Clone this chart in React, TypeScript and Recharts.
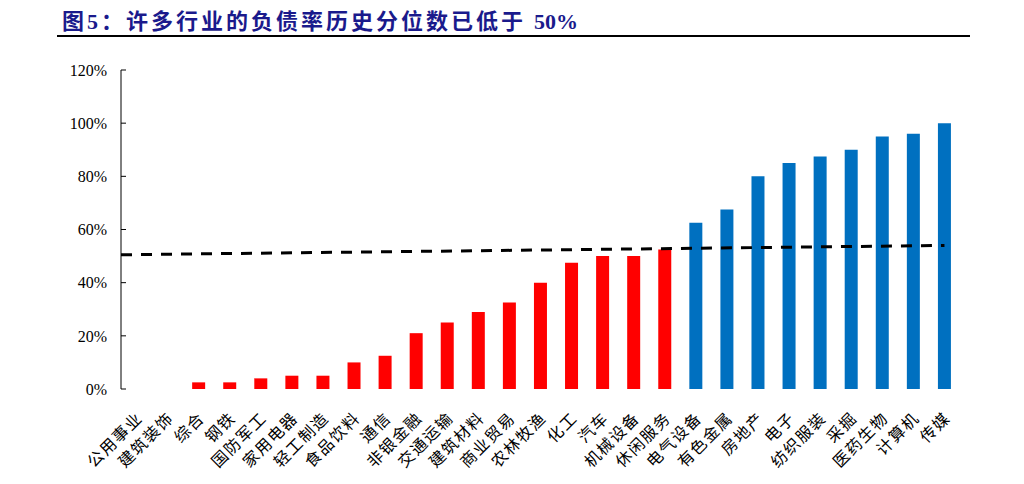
import React from "react";
import { BarChart, Bar, XAxis, YAxis, Cell, ReferenceLine } from "recharts";

// ---- data ----
const industries = [
  "公用事业", "建筑装饰", "综合", "钢铁", "国防军工", "家用电器", "轻工制造",
  "食品饮料", "通信", "非银金融", "交通运输", "建筑材料", "商业贸易", "农林牧渔",
  "化工", "汽车", "机械设备", "休闲服务", "电气设备", "有色金属", "房地产",
  "电子", "纺织服装", "采掘", "医药生物", "计算机", "传媒",
];
const percentile = [
  0, 0, 2.5, 2.5, 4, 5, 5,
  10, 12.5, 21, 25, 29, 32.5, 40,
  47.5, 50, 50, 52.5, 62.5, 67.5, 80,
  85, 87.5, 90, 95, 96, 100,
];
const yTicks = [0, 20, 40, 60, 80, 100, 120];
// dashed trend line: value at the left edge and at the last category
const trendStart = 50.5;
const trendEnd = 54;
// first N industries are below the 50% line (red), rest blue
const belowCount = 18;

const data = industries.map((name, i) => ({ name, value: percentile[i] }));
const n = industries.length;
const boundaryTicks = Array.from({ length: n + 1 }, (_, i) => i);

const RED = "#FF0000";
const BLUE = "#0070C0";
const SERIF = "'Liberation Serif', 'Times New Roman', serif";
const CJK = "'Noto Sans CJK SC', sans-serif";

const CategoryTick = ({ x, y, payload }: { x?: number; y?: number; payload?: { value: string } }) => {
  const tx = (x ?? 0) + 7;
  const ty = (y ?? 0) + 22;
  return (
    <text
      x={tx}
      y={ty}
      transform={`rotate(-45 ${tx} ${ty})`}
      textAnchor="end"
      fontFamily={CJK}
      fontSize={16}
      letterSpacing={1.5}
      fill="#000"
    >
      {payload?.value}
    </text>
  );
};

export default function App() {
  return (
    <div style={{ position: "absolute", left: 0, top: 0, width: 1024, height: 484, background: "#fff" }}>
      {/* Title */}
      <div
        style={{
          position: "absolute",
          left: 62,
          top: 4,
          fontFamily: CJK,
          fontWeight: 700,
          fontSize: 22,
          letterSpacing: 3,
          color: "#1A1A8C",
          whiteSpace: "nowrap",
          lineHeight: "30px",
        }}
      >
        图<span style={{ fontFamily: SERIF }}>5</span>：许多行业的负债率历史分位数已低于{" "}
        <span style={{ fontFamily: SERIF, letterSpacing: 0 }}>50%</span>
      </div>
      <div style={{ position: "absolute", left: 57, top: 35, width: 913, height: 2, background: "#000" }} />

      <div style={{ position: "absolute", left: 0, top: 0 }}>
        <BarChart
          width={1024}
          height={484}
          data={data}
          margin={{ top: 70, right: 64, bottom: 0, left: 61 }}
          barSize={13}
        >
          <XAxis
            xAxisId="grid"
            type="number"
            dataKey="none"
            domain={[0, n]}
            ticks={boundaryTicks}
            interval={0}
            height={0}
            axisLine={{ stroke: "#000", strokeWidth: 1 }}
            tickLine={{ stroke: "#000" }}
            tickSize={-5}
            tick={() => <g />}
            allowDataOverflow
          />
          <XAxis
            xAxisId="cat"
            dataKey="name"
            interval={0}
            height={95}
            axisLine={false}
            tickLine={false}
            tick={<CategoryTick />}
          />
          <YAxis
            domain={[0, 120]}
            ticks={yTicks}
            interval={0}
            width={60}
            axisLine={{ stroke: "#000", strokeWidth: 1 }}
            tickLine={{ stroke: "#000" }}
            tickSize={-5}
            tickMargin={19}
            tickFormatter={(v) => `${v}%`}
            tick={{ fontFamily: SERIF, fontSize: 16, fill: "#000" }}
          />
          <Bar xAxisId="cat" dataKey="value" isAnimationActive={false}>
            {data.map((_, i) => (
              <Cell key={i} fill={i < belowCount ? RED : BLUE} />
            ))}
          </Bar>
          <ReferenceLine
            xAxisId="grid"
            segment={[
              { x: 0, y: trendStart },
              { x: n - 0.5, y: trendEnd },
            ]}
            stroke="#000"
            strokeWidth={3}
            strokeDasharray="11 9"
            ifOverflow="visible"
          />
        </BarChart>
      </div>
    </div>
  );
}
